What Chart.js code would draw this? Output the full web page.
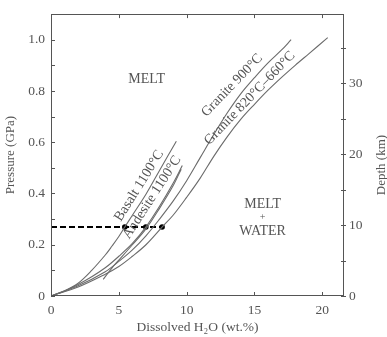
<!DOCTYPE html>
<html>
<head>
<meta charset="utf-8">
<script src="https://cdn.jsdelivr.net/npm/chart.js@4/dist/chart.umd.min.js"></script>
<style>
  html, body { margin: 0; padding: 0; background: #fff; }
  canvas { display: block; }
</style>
</head>
<body>
<canvas id="chart" width="387" height="337"></canvas>
<script>
// Water solubility curves: dissolved H2O (wt.%) against pressure (GPa)
const basaltH2O = [0, 1, 2, 3, 4, 4.5, 5, 5.44, 6, 7, 8, 9.24];
const basaltP   = [0, 0.02, 0.05, 0.1, 0.16, 0.195, 0.232, 0.269, 0.315, 0.397, 0.49, 0.604];

const andesiteH2O = [0, 1, 2, 3, 4, 5, 6, 6.99, 8, 9, 9.68];
const andesiteP   = [0, 0.02, 0.045, 0.075, 0.11, 0.155, 0.205, 0.269, 0.35, 0.44, 0.509];

const andesiteBH2O = [3.85, 4.5, 5, 6, 7, 8, 9, 9.6];
const andesiteBP   = [0.065, 0.11, 0.14, 0.2, 0.262, 0.342, 0.43, 0.495];

const granite900H2O = [0, 2, 4, 5, 6, 7, 8, 9, 10, 11, 12, 13, 14, 15, 16, 17, 17.7];
const granite900P   = [0, 0.04, 0.095, 0.135, 0.18, 0.235, 0.3, 0.37, 0.45, 0.54, 0.63, 0.715, 0.79, 0.852, 0.91, 0.96, 1.0];

const granite820H2O = [0, 2, 4, 5, 6, 7, 8.19, 9, 10, 11, 12, 13, 14, 15, 16, 17, 18, 19, 20.4];
const granite820P   = [0, 0.035, 0.085, 0.115, 0.155, 0.2, 0.269, 0.315, 0.385, 0.46, 0.545, 0.622, 0.69, 0.748, 0.803, 0.853, 0.9, 0.945, 1.008];

// Saturation water contents at ~10 km depth
const depthLineP   = 0.269;
const depthLineH2O = [0, 5.44, 6.99, 8.19];

// Axis ticks
const h2oTicks      = [0, 5, 10, 15, 20];
const pressureTicks = [0, 0.1, 0.2, 0.3, 0.4, 0.5, 0.6, 0.7, 0.8, 0.9, 1.0];
const pressureLabels = ['0', '', '0.2', '', '0.4', '', '0.6', '', '0.8', '', '1.0'];
const depthTicks    = [0, 5, 10, 15, 20, 25, 30, 35];
const depthLabels   = ['0', '', '10', '', '20', '', '30', ''];
const GPA_PER_KM = 0.0277;

const curveNames = ['Basalt 1100°C', 'Andesite 1100°C', 'Granite 900°C', 'Granite 820°C–660°C'];
const regionNames = ['MELT', 'MELT', '+', 'WATER'];
const depthTitle = 'Depth (km)';

const zip = (xs, ys) => xs.map((x, i) => ({ x, y: ys[i] }));

const SERIF = '"Liberation Serif", "Times New Roman", serif';
const INK = '#555';
const CURVE = '#6b6b6b';

// Text placed inside the plot (data coordinates, screen rotation in degrees)
const textItems = [
  { text: curveNames[0], x: 6.5,  y: 0.43,  rot: -58 },
  { text: curveNames[1], x: 7.45, y: 0.385, rot: -57 },
  { text: curveNames[2], x: 13.35, y: 0.822, rot: -46 },
  { text: curveNames[3], x: 14.65, y: 0.772, rot: -46 },
  { text: regionNames[0], x: 7.05, y: 0.846, rot: 0 },
  { text: regionNames[1], x: 15.6, y: 0.356, rot: 0 },
  { text: regionNames[2], x: 15.6, y: 0.305, rot: 0, small: true },
  { text: regionNames[3], x: 15.6, y: 0.254, rot: 0 }
];

const frameAndText = {
  id: 'frameAndText',
  afterDraw(chart) {
    const { ctx, chartArea: ca, scales } = chart;
    const xs = scales.x, ys = scales.y, ds = scales.y2;
    ctx.save();
    ctx.strokeStyle = INK;
    ctx.lineWidth = 1;
    ctx.strokeRect(Math.round(ca.left) + 0.5, Math.round(ca.top) + 0.5,
                   Math.round(ca.right - ca.left) - 1, Math.round(ca.bottom - ca.top) - 1);
    ctx.beginPath();
    h2oTicks.forEach(v => {
      const px = Math.round(xs.getPixelForValue(v)) + 0.5;
      ctx.moveTo(px, ca.bottom); ctx.lineTo(px, ca.bottom - 4);
      ctx.moveTo(px, ca.top); ctx.lineTo(px, ca.top + 4);
    });
    pressureTicks.forEach(v => {
      const py = Math.round(ys.getPixelForValue(v)) + 0.5;
      ctx.moveTo(ca.left, py); ctx.lineTo(ca.left + 4, py);
    });
    depthTicks.forEach(v => {
      const py = Math.round(ds.getPixelForValue(v)) + 0.5;
      ctx.moveTo(ca.right - 3, py); ctx.lineTo(ca.right + 2, py);
    });
    ctx.stroke();

    ctx.fillStyle = INK;
    ctx.textAlign = 'center';
    ctx.textBaseline = 'middle';
    textItems.forEach(t => {
      const px = xs.getPixelForValue(t.x);
      const py = ys.getPixelForValue(t.y);
      ctx.save();
      ctx.translate(px, py);
      ctx.rotate(t.rot * Math.PI / 180);
      ctx.font = (t.small ? '10px ' : '14px ') + SERIF;
      ctx.fillText(t.text, 0, 0);
      ctx.restore();
    });

    // right-hand axis title, reading bottom to top
    ctx.save();
    ctx.translate(ds.right - 5.5, ds.getPixelForValue(ds.min) - 131);
    ctx.rotate(-Math.PI / 2);
    ctx.font = '13px ' + SERIF;
    ctx.fillText(depthTitle, 0, 0);
    ctx.restore();
    ctx.restore();
  }
};

const curveStyle = { borderColor: CURVE, borderWidth: 1.1, pointRadius: 0, showLine: true, tension: 0.35, fill: false };

new Chart(document.getElementById('chart'), {
  type: 'scatter',
  data: {
    datasets: [
      { label: curveNames[0], data: zip(basaltH2O, basaltP), ...curveStyle },
      { label: curveNames[1], data: zip(andesiteH2O, andesiteP), ...curveStyle },
      { label: curveNames[1] + ' b', data: zip(andesiteBH2O, andesiteBP), ...curveStyle },
      { label: curveNames[2], data: zip(granite900H2O, granite900P), ...curveStyle },
      { label: curveNames[3], data: zip(granite820H2O, granite820P), ...curveStyle },
      {
        label: '10 km',
        data: depthLineH2O.map(x => ({ x, y: depthLineP })),
        showLine: true,
        borderColor: '#000',
        borderWidth: 2,
        borderDash: [6, 3],
        pointRadius: depthLineH2O.map((x, i) => i === 0 ? 0 : 2.8),
        pointBackgroundColor: '#000',
        pointBorderColor: '#000',
        pointBorderWidth: 0,
        tension: 0
      }
    ]
  },
  options: {
    responsive: false,
    animation: false,
    layout: { padding: { top: 7, left: 0, right: 0, bottom: 0 } },
    plugins: { legend: { display: false }, tooltip: { enabled: false } },
    scales: {
      x: {
        type: 'linear',
        position: 'bottom',
        min: 0, max: 21.6,
        afterBuildTicks: s => { s.ticks = h2oTicks.map(v => ({ value: v })); },
        afterFit: s => { s.height = 41; },
        grid: { display: false, drawTicks: false },
        border: { display: false },
        ticks: { color: INK, padding: 6, font: { family: SERIF, size: 13.5 }, callback: v => String(v) },
        title: { display: true, text: 'Dissolved H₂O (wt.%)', color: INK,
                 font: { family: SERIF, size: 13.5, lineHeight: 1 }, padding: { top: 0, bottom: 3 } }
      },
      y: {
        type: 'linear',
        position: 'left',
        min: 0, max: 1.1,
        afterBuildTicks: s => { s.ticks = pressureTicks.map(v => ({ value: v })); },
        afterFit: s => { s.width = 51; },
        grid: { display: false, drawTicks: false },
        border: { display: false },
        ticks: { color: INK, padding: 6, font: { family: SERIF, size: 13.5 },
                 callback: (v, i) => pressureLabels[i] },
        title: { display: true, text: 'Pressure (GPa)', color: INK,
                 font: { family: SERIF, size: 13, lineHeight: 1 }, padding: { top: 4, bottom: 0 } }
      },
      y2: {
        type: 'linear',
        position: 'right',
        min: 0, max: 1.1 / GPA_PER_KM,
        afterBuildTicks: s => { s.ticks = depthTicks.map(v => ({ value: v })); },
        afterFit: s => { s.width = 43; },
        grid: { display: false, drawTicks: false },
        border: { display: false },
        ticks: { color: INK, padding: 5, font: { family: SERIF, size: 13.5 },
                 callback: (v, i) => depthLabels[i] },
        title: { display: false }
      }
    }
  },
  plugins: [frameAndText]
});
</script>
</body>
</html>
